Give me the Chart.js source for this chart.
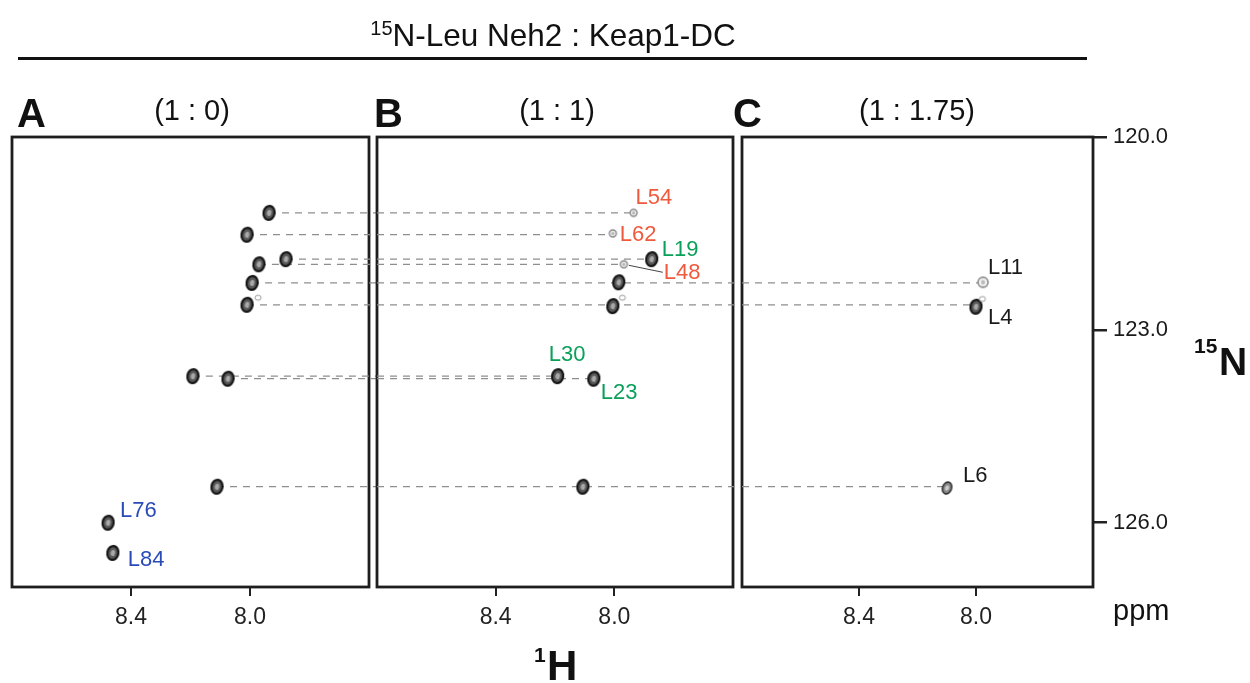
<!DOCTYPE html>
<html>
<head>
<meta charset="utf-8">
<script src="https://cdn.jsdelivr.net/npm/chart.js@4.4.0/dist/chart.umd.min.js"></script>
<style>
  body { margin: 0; background: #fff; }
  #wrap { position: relative; width: 1250px; height: 683px; font-family: "Liberation Sans", Arial, sans-serif; color: #111; overflow: hidden; }
  #wrap canvas { position: absolute; left: 0; top: 0; }
  .t { position: absolute; white-space: nowrap; line-height: 1; }
  .sup { position: relative; }
  #rule { position: absolute; left: 18px; top: 57px; width: 1069px; height: 3px; background: #111; }
</style>
</head>
<body>
<div id="wrap">
  <canvas id="cA" width="1250" height="683"></canvas>
  <canvas id="cB" width="1250" height="683"></canvas>
  <canvas id="cC" width="1250" height="683"></canvas>

  <div class="t" style="left:0;width:1106px;text-align:center;top:20px;font-size:31.5px;"><span class="sup" style="font-size:20px;top:-11px;">15</span>N-Leu Neh2 : Keap1-DC</div>
  <div id="rule"></div>

  <div class="t" style="left:17px;top:93px;font-size:40px;font-weight:bold;">A</div>
  <div class="t" style="left:374px;top:93px;font-size:40px;font-weight:bold;">B</div>
  <div class="t" style="left:733px;top:93px;font-size:40px;font-weight:bold;">C</div>
  <div class="t" style="left:92px;width:200px;text-align:center;top:96px;font-size:29px;">(1 : 0)</div>
  <div class="t" style="left:457px;width:200px;text-align:center;top:96px;font-size:29px;">(1 : 1)</div>
  <div class="t" style="left:817px;width:200px;text-align:center;top:96px;font-size:29px;">(1 : 1.75)</div>

  <div class="t" style="left:1194px;top:335px;font-size:21px;font-weight:bold;">15</div>
  <div class="t" style="left:1219px;top:342px;font-size:39px;font-weight:bold;">N</div>
  <div class="t" style="left:1113px;top:596px;font-size:29px;">ppm</div>
  <div class="t" style="left:534px;top:644px;font-size:21px;font-weight:bold;">1</div>
  <div class="t" style="left:547px;top:645px;font-size:42px;font-weight:bold;">H</div>
</div>

<script>
// axis ranges and ticks (1H reversed, 15N downward)
const hRange = [7.6, 8.8]
const nRange = [120, 127]
const xTicks = [8.4, 8.0]
const yTicks = [120.0, 123.0, 126.0]

// cross peaks, one entry per residue
const residues = ['L54', 'L62', 'L19', 'L48', 'L11', 'L4', 'L30', 'L23', 'L6', 'L76', 'L84']
const hA = [7.936, 8.010, 7.879, 7.970, 7.993, 8.010, 8.192, 8.074, 8.111, 8.477, 8.461]
const nA = [121.18, 121.52, 121.90, 121.98, 122.27, 122.61, 123.72, 123.76, 125.44, 126.00, 126.47]
const hB = [7.935, 8.005, 7.874, 7.968, 7.985, 8.005, 8.191, 8.069, 8.106, null, null]
const nB = [121.18, 121.50, 121.90, 121.98, 122.26, 122.63, 123.72, 123.76, 125.44, null, null]
const hC = [null, null, null, null, 7.976, 8.000, null, null, 8.099, null, null]
const nC = [null, null, null, null, 122.26, 122.64, null, null, 125.46, null, null]
const kindA = ['strong', 'strong', 'strong', 'strong', 'strong', 'strong', 'strong', 'strong', 'strong', 'strong', 'strong']
const kindB = ['weak', 'weak', 'strong', 'weak', 'strong', 'strong', 'strong', 'strong', 'strong', null, null]
const kindC = [null, null, null, null, 'ghost', 'strong', null, null, 'fading', null, null]

// small extra peak next to L4, seen in every panel
const minorH = [7.973, 7.973, 7.978]
const minorN = [122.50, 122.50, 122.52]

// where each residue is labelled
const labelPanel = ['B', 'B', 'B', 'B', 'C', 'C', 'B', 'B', 'C', 'A', 'A']
const labelGroup = ['lost', 'lost', 'kept', 'lost', 'plain', 'plain', 'kept', 'kept', 'plain', 'free', 'free']

// ---- styles ----
const groupColor = { lost: '#f05a3c', kept: '#0aa05a', plain: '#1a1a1a', free: '#2a4ab8' }
const labelOffset = {
  L54: [2, -15], L62: [7, 2], L19: [10, -9], L48: [40, 9], L11: [5, -14], L4: [12, 11],
  L30: [-9, -21], L23: [7, 14], L6: [16, -12], L76: [12, -12], L84: [15, 7]
}
const peakStyle = {
  strong: { w: 11, h: 14, rot: 0.18, fill: '#5a5a5a', ring: '#161616', lw: 2.2, core: '#a9a9a9' },
  fading: { w: 9, h: 12, rot: 0.35, fill: '#8a8a8a', ring: '#333', lw: 1.6, core: '#cfcfcf' },
  weak: { w: 7, h: 7, rot: 0, fill: '#eeeeee', ring: '#8a8a8a', lw: 1.4, core: '#b0b0b0' },
  ghost: { w: 10, h: 10, rot: 0, fill: '#f2f2f2', ring: '#9a9a9a', lw: 1.8, core: '#bdbdbd' },
  trace: { w: 6, h: 5, rot: 0, fill: '#ffffff', ring: '#999', lw: 1, core: null }
}
const FONT = '"Liberation Sans", Arial, sans-serif'
Chart.defaults.font.family = FONT

const peakImg = {}
Object.keys(peakStyle).forEach(k => {
  const s = peakStyle[k]
  const c = document.createElement('canvas')
  c.width = s.w + 6
  c.height = s.h + 6
  const g = c.getContext('2d')
  g.translate(c.width / 2, c.height / 2)
  g.rotate(s.rot)
  g.beginPath()
  g.ellipse(0, 0, s.w / 2, s.h / 2, 0, 0, Math.PI * 2)
  g.fillStyle = s.fill
  g.fill()
  g.lineWidth = s.lw
  g.strokeStyle = s.ring
  g.stroke()
  if (s.core) {
    g.beginPath()
    g.ellipse(0, 0, s.w * 0.2, s.h * 0.22, 0, 0, Math.PI * 2)
    g.fillStyle = s.core
    g.fill()
  }
  peakImg[k] = c
})

const GAP = 0.03 // dashes run on through the gap between panels
const dashRow = (x1, x2, y) => ({
  data: [{ x: x1, y: y }, { x: x2, y: y }],
  showLine: true,
  borderColor: '#8e8e8e',
  borderWidth: 1.3,
  borderDash: [7, 6],
  pointRadius: 0,
  clip: false,
  order: 2
})

const peakSet = (hs, ns, kinds, mi) => {
  const pts = []
  const styles = []
  hs.forEach((h, i) => {
    if (h == null) return
    pts.push({ x: h, y: ns[i] })
    styles.push(peakImg[kinds[i]])
  })
  pts.push({ x: minorH[mi], y: minorN[mi] })
  styles.push(peakImg.trace)
  return { data: pts, pointStyle: styles, pointRadius: 5, order: 0 }
}

const framePlugin = {
  id: 'frame',
  beforeDatasetsDraw(chart) {
    const { ctx, chartArea: a } = chart
    ctx.save()
    ctx.strokeStyle = '#1e1e1e'
    ctx.lineWidth = 2.8
    ctx.strokeRect(a.left, a.top, a.right - a.left, a.bottom - a.top)
    ctx.restore()
  }
}

const labelPlugin = {
  id: 'peakLabels',
  afterDatasetsDraw(chart, args, opts) {
    const { ctx, scales: { x, y } } = chart
    ctx.save()
    ctx.font = '22px ' + FONT
    ctx.textBaseline = 'middle'
    ctx.textAlign = 'left'
    residues.forEach((r, i) => {
      if (labelPanel[i] !== opts.panel) return
      const px = x.getPixelForValue(opts.h[i])
      const py = y.getPixelForValue(opts.n[i])
      const [dx, dy] = labelOffset[r]
      if (r === 'L48') {
        ctx.strokeStyle = '#444'
        ctx.lineWidth = 1
        ctx.beginPath()
        ctx.moveTo(px + 5, py + 1)
        ctx.lineTo(px + 39, py + 8)
        ctx.stroke()
      }
      ctx.fillStyle = groupColor[labelGroup[i]]
      ctx.fillText(r, px + dx, py + dy)
    })
    ctx.restore()
  }
}

const makePanel = (id, panel, datasets, h, n, pad, showY) => {
  return new Chart(document.getElementById(id), {
    type: 'scatter',
    data: { datasets },
    plugins: [framePlugin, labelPlugin],
    options: {
      responsive: false,
      animation: false,
      events: [],
      layout: { padding: pad },
      plugins: {
        legend: { display: false },
        tooltip: { enabled: false },
        peakLabels: { panel, h, n }
      },
      scales: {
        x: {
          type: 'linear',
          reverse: true,
          min: hRange[0],
          max: hRange[1],
          afterBuildTicks: s => { s.ticks = xTicks.map(v => ({ value: v })) },
          afterFit: s => { s.height = 50 },
          border: { display: false },
          grid: { drawOnChartArea: false, drawTicks: true, tickLength: 9, color: '#222', lineWidth: 2 },
          ticks: { font: { size: 23 }, color: '#222', padding: 8, maxRotation: 0, autoSkip: false, callback: v => v.toFixed(1) }
        },
        y: {
          type: 'linear',
          display: showY,
          position: 'right',
          reverse: true,
          min: nRange[0],
          max: nRange[1],
          afterBuildTicks: s => { s.ticks = yTicks.map(v => ({ value: v })) },
          afterFit: s => { s.width = showY ? 137 : 0 },
          border: { display: false },
          grid: { drawOnChartArea: false, drawTicks: true, tickLength: 14, color: '#222', lineWidth: 2.5 },
          ticks: { font: { size: 22 }, color: '#1a1a1a', padding: 6, callback: v => v.toFixed(1) }
        }
      }
    }
  })
}

// panel A: free protein
const setsA = [peakSet(hA, nA, kindA, 0)]
hA.forEach((h, i) => { if (hB[i] != null) setsA.push(dashRow(h, hRange[0] - GAP, nA[i])) })

// panel B: 1 : 1
const setsB = [peakSet(hB, nB, kindB, 1)]
hB.forEach((h, i) => {
  if (h == null) return
  setsB.push(dashRow(hRange[1], hC[i] != null ? hRange[0] - GAP : h, nA[i]))
})

// panel C: 1 : 1.75
const setsC = [peakSet(hC, nC, kindC, 2)]
hC.forEach((h, i) => { if (h != null) setsC.push(dashRow(hRange[1], h, nA[i])) })

makePanel('cA', 'A', setsA, hA, nA, { left: 12, right: 881, top: 137, bottom: 46 }, false)
makePanel('cB', 'B', setsB, hB, nB, { left: 377, right: 517, top: 137, bottom: 46 }, false)
makePanel('cC', 'C', setsC, hC, nC, { left: 742, right: 20, top: 137, bottom: 46 }, true)
</script>
</body>
</html>
